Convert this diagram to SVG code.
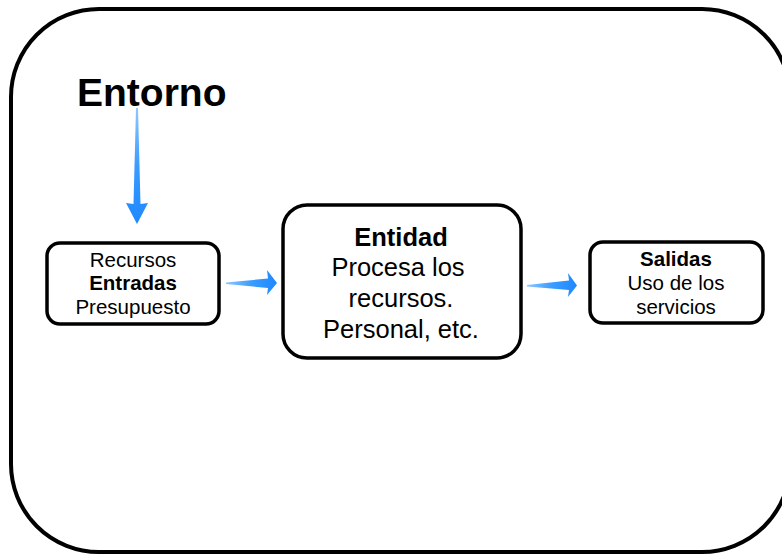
<svg xmlns="http://www.w3.org/2000/svg" width="782" height="554" viewBox="0 0 782 554">
<defs>
<linearGradient id="gH" x1="0" y1="0" x2="1" y2="0">
<stop offset="0" stop-color="#8ec8ff"/>
<stop offset="0.5" stop-color="#3a9cff"/>
<stop offset="1" stop-color="#1e88ff"/>
</linearGradient>
<linearGradient id="gV" x1="0" y1="0" x2="0" y2="1">
<stop offset="0" stop-color="#8ec8ff"/>
<stop offset="0.5" stop-color="#3a9cff"/>
<stop offset="1" stop-color="#1e88ff"/>
</linearGradient>
<style>
.box{fill:#fff;stroke:#000;stroke-width:3.5}
.t{font-family:"Liberation Sans",Arial,sans-serif;fill:#000;text-anchor:middle}
.s{font-size:20.5px}
.m{font-size:25.5px}
.b{font-weight:bold}
</style>
</defs>
<rect width="782" height="554" fill="#fff"/>
<g id="entorno">
<rect x="11" y="9" width="779" height="543" rx="88" ry="88" fill="none" stroke="#000" stroke-width="4"/>
<text x="77" y="106" font-family="Liberation Sans,Arial,sans-serif" font-weight="bold" font-size="39">Entorno</text>
</g>
<g id="connectors">
<polygon points="136,108 138,108 140.5,204 148,203 137,224 126,203 133.5,204" fill="url(#gV)"/>
<polygon points="226,282.5 268,278.5 267,270 277,283 267,295 268,288 226,284" fill="url(#gH)"/>
<polygon points="527,285 569,280.5 568,273 577,285.5 568,297 569,290 527,286.5" fill="url(#gH)"/>
</g>
<g id="entradas">
<rect class="box" x="47" y="243" width="172" height="81" rx="13"/>
<text class="t s" x="133" y="267">Recursos</text>
<text class="t s b" x="133" y="290">Entradas</text>
<text class="t s" x="133" y="314">Presupuesto</text>
</g>
<g id="entidad">
<rect class="box" x="283" y="205" width="238" height="153" rx="24"/>
<text class="t m b" x="401" y="246">Entidad</text>
<text class="t m" x="398" y="276">Procesa los</text>
<text class="t m" x="401" y="307">recursos.</text>
<text class="t m" x="401" y="338">Personal, etc.</text>
</g>
<g id="salidas">
<rect class="box" x="590" y="242" width="173" height="81" rx="13"/>
<text class="t s b" x="676" y="266">Salidas</text>
<text class="t s" x="676" y="290">Uso de los</text>
<text class="t s" x="676" y="314">servicios</text>
</g>
</svg>
